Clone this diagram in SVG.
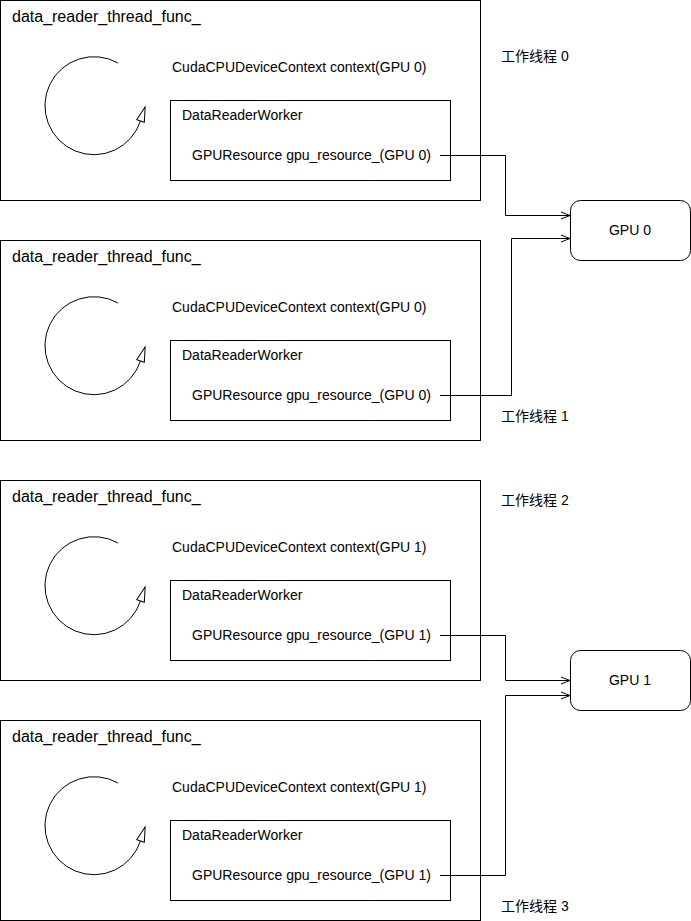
<svg xmlns="http://www.w3.org/2000/svg" width="691" height="921" viewBox="0 0 691 921">
<defs>
<style>
.box{fill:#fff;stroke:#000;stroke-width:1}
.t{font-family:"Liberation Sans",Arial,sans-serif;font-size:14px;fill:#000}
.title{font-family:"Liberation Sans",Arial,sans-serif;font-size:16px;fill:#000}
.cjk{font-family:"Liberation Sans","Noto Sans CJK SC",sans-serif;font-size:14px;fill:#000}
.conn{fill:none;stroke:#000;stroke-width:1}
.loop{fill:none;stroke:#000;stroke-width:1}
</style>
<marker id="open" viewBox="0 0 10 10" refX="10" refY="5" markerWidth="10" markerHeight="10" markerUnits="userSpaceOnUse" orient="auto">
<path d="M1 1.5 L10 5 L1 8.5" fill="none" stroke="#000" stroke-width="1"/>
</marker>
<marker id="tri" viewBox="-1 -1 17 10" refX="0" refY="4" markerWidth="17" markerHeight="10" markerUnits="userSpaceOnUse" orient="auto">
<path d="M0 0 L15 4 L0 8 Z" fill="#fff" stroke="#000" stroke-width="1"/>
</marker>
</defs>
<rect width="691" height="921" fill="#fff"/>

<g id="thread0">
<rect class="box" x="0.5" y="0.5" width="480" height="200"/>
<text class="title" x="12" y="22">data_reader_thread_func_</text>
<path class="loop" d="M118 63 A49 49 0 1 0 140.5 121" marker-end="url(#tri)"/>
<text class="t" x="172" y="72">CudaCPUDeviceContext context(GPU 0)</text>
<g id="worker0">
<rect class="box" x="170.5" y="100.5" width="280" height="80"/>
<text class="t" x="182" y="120">DataReaderWorker</text>
<text class="t" x="192" y="160">GPUResource gpu_resource_(GPU 0)</text>
</g>
</g>
<text id="label0" class="cjk" x="501" y="61">工作线程 0</text>

<g id="thread1">
<rect class="box" x="0.5" y="240.5" width="480" height="200"/>
<text class="title" x="12" y="262">data_reader_thread_func_</text>
<path class="loop" d="M118 303 A49 49 0 1 0 140.5 361" marker-end="url(#tri)"/>
<text class="t" x="172" y="312">CudaCPUDeviceContext context(GPU 0)</text>
<g id="worker1">
<rect class="box" x="170.5" y="340.5" width="280" height="80"/>
<text class="t" x="182" y="360">DataReaderWorker</text>
<text class="t" x="192" y="400">GPUResource gpu_resource_(GPU 0)</text>
</g>
</g>
<text id="label1" class="cjk" x="501" y="421">工作线程 1</text>

<g id="thread2">
<rect class="box" x="0.5" y="480.5" width="480" height="200"/>
<text class="title" x="12" y="502">data_reader_thread_func_</text>
<path class="loop" d="M118 543 A49 49 0 1 0 140.5 601" marker-end="url(#tri)"/>
<text class="t" x="172" y="552">CudaCPUDeviceContext context(GPU 1)</text>
<g id="worker2">
<rect class="box" x="170.5" y="580.5" width="280" height="80"/>
<text class="t" x="182" y="600">DataReaderWorker</text>
<text class="t" x="192" y="640">GPUResource gpu_resource_(GPU 1)</text>
</g>
</g>
<text id="label2" class="cjk" x="501" y="505">工作线程 2</text>

<g id="thread3">
<rect class="box" x="0.5" y="720.5" width="480" height="200"/>
<text class="title" x="12" y="742">data_reader_thread_func_</text>
<path class="loop" d="M118 783 A49 49 0 1 0 140.5 841" marker-end="url(#tri)"/>
<text class="t" x="172" y="792">CudaCPUDeviceContext context(GPU 1)</text>
<g id="worker3">
<rect class="box" x="170.5" y="820.5" width="280" height="80"/>
<text class="t" x="182" y="840">DataReaderWorker</text>
<text class="t" x="192" y="880">GPUResource gpu_resource_(GPU 1)</text>
</g>
</g>
<text id="label3" class="cjk" x="501" y="911">工作线程 3</text>

<g id="gpu0">
<rect class="box" x="570.5" y="200.5" width="120" height="60" rx="10" ry="10"/>
<text class="t" x="630" y="235" text-anchor="middle">GPU 0</text>
</g>
<g id="gpu1">
<rect class="box" x="570.5" y="650.5" width="120" height="60" rx="10" ry="10"/>
<text class="t" x="630" y="685" text-anchor="middle">GPU 1</text>
</g>

<g id="connectors">
<path class="conn" d="M440 155.5 H505.5 V215.5 H570" marker-end="url(#open)"/>
<path class="conn" d="M440 395.5 H511.5 V238.5 H570" marker-end="url(#open)"/>
<path class="conn" d="M440 635.5 H505.5 V680.5 H570" marker-end="url(#open)"/>
<path class="conn" d="M440 875.5 H505.5 V695.5 H570" marker-end="url(#open)"/>
</g>
</svg>
